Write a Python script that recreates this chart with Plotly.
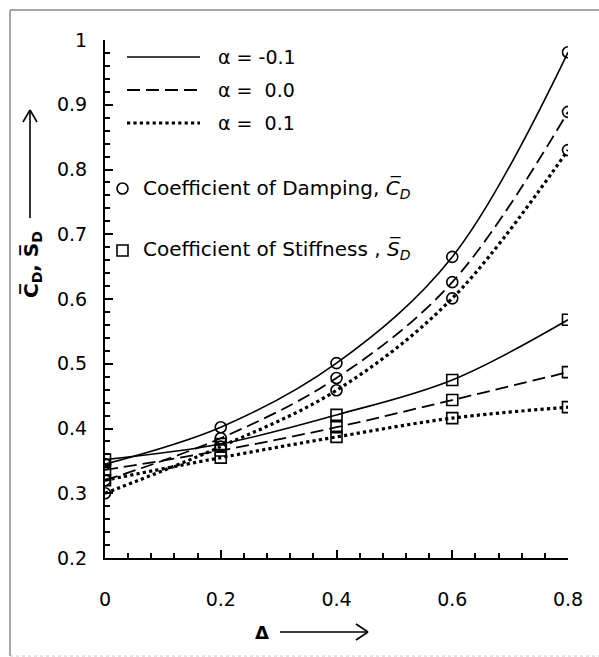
import plotly.graph_objects as go

# Dimensionless eccentricity-like parameter on the x axis
delta = [0.0, 0.2, 0.4, 0.6, 0.8]

# Coefficient of damping for three values of alpha
cd_alpha_m01 = [0.345, 0.402, 0.501, 0.665, 0.981]
cd_alpha_00 = [0.320, 0.385, 0.478, 0.626, 0.889]
cd_alpha_p01 = [0.300, 0.372, 0.459, 0.601, 0.830]

# Coefficient of stiffness for three values of alpha
sd_alpha_m01 = [0.352, 0.376, 0.421, 0.475, 0.568]
sd_alpha_00 = [0.336, 0.366, 0.402, 0.444, 0.487]
sd_alpha_p01 = [0.320, 0.355, 0.387, 0.416, 0.433]

alpha_labels = ["α = -0.1", "α =  0.0", "α =  0.1"]

W, H = 599, 657
L, R, T, B = 105, 31, 40, 99
PW, PH = W - L - R, H - T - B
FONT = "DejaVu Sans"


def px(x):
    return (x - L) / PW


def py(y):
    return (H - B - y) / PH


styles = [
    dict(dash="solid", width=1.6),
    dict(dash="13px,6px", width=1.8),
    dict(dash="dot", width=3.2),
]

fig = go.Figure()

cd_sets = [cd_alpha_m01, cd_alpha_00, cd_alpha_p01]
sd_sets = [sd_alpha_m01, sd_alpha_00, sd_alpha_p01]

for vals, st in zip(sd_sets, styles):
    fig.add_trace(go.Scatter(
        x=delta, y=vals, mode="lines+markers", line_shape="spline",
        line=dict(color="black", **st),
        marker=dict(symbol="square-open", size=11, color="black",
                    line=dict(width=1.6, color="black")),
        showlegend=False, hoverinfo="skip"))

for vals, st in zip(cd_sets, styles):
    fig.add_trace(go.Scatter(
        x=delta, y=vals, mode="lines+markers", line_shape="spline",
        line=dict(color="black", **st),
        marker=dict(symbol="circle-open", size=11, color="black",
                    line=dict(width=1.6, color="black")),
        showlegend=False, hoverinfo="skip"))

shapes = []
annotations = []

# outer frame: top, left and bottom edges
frame = dict(color="#8a8a8a", width=1.5)
shapes += [
    dict(type="line", xref="paper", yref="paper", x0=px(10), x1=px(599),
         y0=py(10), y1=py(10), line=frame),
    dict(type="line", xref="paper", yref="paper", x0=px(10), x1=px(10),
         y0=py(10), y1=py(656), line=frame),
    dict(type="line", xref="paper", yref="paper", x0=px(10), x1=px(599),
         y0=py(656), y1=py(656), line=dict(color="#c8c8c8", width=1, dash="dot")),
]

# legend: line samples with alpha labels
for i, (st, lab) in enumerate(zip(styles, alpha_labels)):
    yy = 57 + 33 * i
    shapes.append(dict(type="line", xref="paper", yref="paper",
                       x0=px(127), x1=px(200), y0=py(yy), y1=py(yy),
                       line=dict(color="black", dash=st["dash"], width=st["width"])))
    annotations.append(dict(xref="paper", yref="paper", x=px(216), y=py(yy),
                            text=lab, showarrow=False, xanchor="left",
                            yanchor="middle",
                            font=dict(family=FONT, size=19, color="black")))

# legend: marker meanings
shapes.append(dict(type="circle", xref="paper", yref="paper",
                   x0=px(117), x1=px(128), y0=py(194), y1=py(183),
                   line=dict(color="black", width=1.6)))
shapes.append(dict(type="rect", xref="paper", yref="paper",
                   x0=px(117), x1=px(128), y0=py(256), y1=py(245),
                   line=dict(color="black", width=1.6)))
annotations.append(dict(xref="paper", yref="paper", x=px(141), y=py(188),
                        text="Coefficient of Damping, <i>C\u0305<sub>D</sub></i>",
                        showarrow=False, xanchor="left", yanchor="middle",
                        font=dict(family=FONT, size=20, color="black")))
annotations.append(dict(xref="paper", yref="paper", x=px(141), y=py(250),
                        text="Coefficient of Stiffness , <i>S\u0305<sub>D</sub></i>",
                        showarrow=False, xanchor="left", yanchor="middle",
                        font=dict(family=FONT, size=20, color="black")))

# y axis title with upward arrow
annotations.append(dict(xref="paper", yref="paper", x=px(32), y=py(265),
                        text="<b>C\u0305<sub>D</sub>, S\u0305<sub>D</sub></b>",
                        textangle=-90, showarrow=False,
                        xanchor="center", yanchor="middle",
                        font=dict(family=FONT, size=20, color="black")))
shapes += [
    dict(type="line", xref="paper", yref="paper", x0=px(30), x1=px(30),
         y0=py(218), y1=py(110), line=dict(color="black", width=1.6)),
    dict(type="line", xref="paper", yref="paper", x0=px(30), x1=px(23),
         y0=py(110), y1=py(122), line=dict(color="black", width=1.6)),
    dict(type="line", xref="paper", yref="paper", x0=px(30), x1=px(37),
         y0=py(110), y1=py(122), line=dict(color="black", width=1.6)),
]

# x axis title with rightward arrow
annotations.append(dict(xref="paper", yref="paper", x=px(262), y=py(632),
                        text="<b>Δ</b>", showarrow=False,
                        xanchor="center", yanchor="middle",
                        font=dict(family=FONT, size=18, color="black")))
shapes += [
    dict(type="line", xref="paper", yref="paper", x0=px(280), x1=px(368),
         y0=py(632), y1=py(632), line=dict(color="black", width=1.6)),
    dict(type="line", xref="paper", yref="paper", x0=px(368), x1=px(356),
         y0=py(632), y1=py(624), line=dict(color="black", width=1.6)),
    dict(type="line", xref="paper", yref="paper", x0=px(368), x1=px(356),
         y0=py(632), y1=py(640), line=dict(color="black", width=1.6)),
]

axis_font = dict(family=FONT, size=19, color="black")

fig.update_layout(
    width=W, height=H,
    margin=dict(l=L, r=R, t=T, b=B, pad=0),
    paper_bgcolor="white", plot_bgcolor="white",
    shapes=shapes, annotations=annotations,
    xaxis=dict(range=[0, 0.8], tickvals=delta, ticktext=["0", "0.2", "0.4", "0.6", "0.8"],
               showgrid=False, zeroline=False, showline=True,
               linecolor="black", linewidth=2,
               ticks="inside", ticklen=8, tickwidth=2, tickcolor="black",
               minor=dict(dtick=0.04, tick0=0, ticks="inside", ticklen=5,
                          tickwidth=1.5, tickcolor="black", showgrid=False),
               tickfont=axis_font, ticklabelstandoff=23),
    yaxis=dict(range=[0.2, 1.0], dtick=0.1, tick0=0.2,
               tickvals=[0.2, 0.3, 0.4, 0.5, 0.6, 0.7, 0.8, 0.9, 1.0],
               ticktext=["0.2", "0.3", "0.4", "0.5", "0.6", "0.7", "0.8", "0.9", "1"],
               showgrid=False, zeroline=False, showline=True,
               linecolor="black", linewidth=2,
               ticks="inside", ticklen=8, tickwidth=2, tickcolor="black",
               minor=dict(dtick=0.02, tick0=0.2, ticks="inside", ticklen=5,
                          tickwidth=1.5, tickcolor="black", showgrid=False),
               tickfont=axis_font, ticklabelstandoff=12),
)

fig.write_html("out.html")
